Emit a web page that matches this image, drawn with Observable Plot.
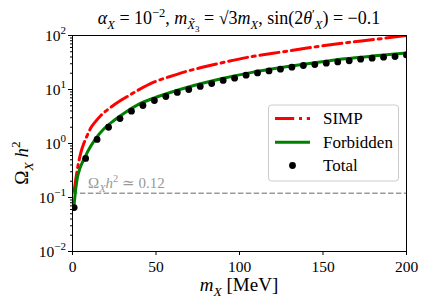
<!DOCTYPE html>
<html><head><meta charset="utf-8">
<script src="https://cdn.jsdelivr.net/npm/d3@7"></script>
<script src="https://cdn.jsdelivr.net/npm/@observablehq/plot@0.6"></script>
<style>body{margin:0;background:#fff} svg{display:block} svg text, svg tspan{font-family: "Liberation Serif", "Times New Roman", "DejaVu Serif", serif !important;}</style>
</head><body><div id="chart"></div>
<script>
// ---- data ----
const totalMass = [1, 7.86, 14.72, 21.59, 28.45, 35.31, 42.17, 49.03, 55.90, 62.76, 69.62, 76.48, 83.34, 90.21, 97.07,
  103.93, 110.79, 117.66, 124.52, 131.38, 138.24, 145.10, 151.97, 158.83, 165.69, 172.55, 179.41, 186.28, 193.14, 200];
const totalOmega = [0.065, 0.53, 1.19, 2.0, 2.9, 3.96, 5.05, 6.26, 7.42, 8.84, 10.0, 11.4, 12.9, 14.7, 16.2,
  18.4, 20.3, 22.1, 23.8, 25.9, 27.8, 29.0, 30.7, 32.4, 34.1, 36.4, 38.0, 39.6, 40.8, 43.7];
const simpMass = [1, 2, 3.5, 5, 7, 9, 11, 14, 17, 23, 29, 34, 39, 49, 59, 69, 79, 89, 106, 126, 146, 163, 183, 200];
const simpOmega = [0.13, 0.22, 0.42, 0.68, 1.05, 1.45, 1.95, 2.6, 3.3, 4.7, 6.3, 7.8, 9.6, 13.8, 17.6, 22, 26.3, 31, 40, 50, 62, 73, 86, 100];
const forbMass = [1, 2, 3, 4.5, 6, 8, 9, 14, 19, 25, 32, 39, 49, 59, 69, 79, 89, 106, 126, 146, 163, 183, 200];
const forbOmega = [0.075, 0.15, 0.24, 0.35, 0.45, 0.6, 0.7, 1.25, 1.9, 2.7, 3.85, 5.2, 7.0, 8.9, 11.0, 13.3, 15.8, 20.3, 25.8, 31.6, 37, 42.5, 47.5];
const relicValue = 0.12;
const xTicks = [0, 50, 100, 150, 200];
const yTickExps = [-2, -1, 0, 1, 2];
const legendLabels = ["SIMP", "Forbidden", "Total"];

const FONT = "Liberation Serif, Times New Roman, DejaVu Serif, serif";
const total = totalMass.map((m, i) => ({m, v: totalOmega[i]}));
const simp = simpMass.map((m, i) => ({m, v: simpOmega[i]}));
const forb = forbMass.map((m, i) => ({m, v: forbOmega[i]}));
const majorY = yTickExps.map(e => Math.pow(10, e));
const minorY = [];
for (const e of yTickExps.slice(0, -1)) for (let k = 2; k <= 9; k++) minorY.push(k * Math.pow(10, e));

const DASHDOT = "19.2,4.8,3,4.8";

const plot = Plot.plot({
  width: 426, height: 308,
  marginLeft: 72, marginRight: 20, marginTop: 35, marginBottom: 57,
  style: {fontFamily: FONT, fontSize: "15.5px", color: "black", background: "white", overflow: "visible"},
  x: {domain: [0, 200]},
  y: {type: "log", domain: [0.01, 100]},
  marks: [
    Plot.ruleY([relicValue], {stroke: "#999", strokeWidth: 1.5, strokeDasharray: "5.5,2.4"}),
    Plot.line(simp, {x: "m", y: "v", stroke: "red", strokeWidth: 3, strokeDasharray: DASHDOT, curve: "monotone-x", clip: true}),
    Plot.line(forb, {x: "m", y: "v", stroke: "green", strokeWidth: 3, curve: "monotone-x", clip: true}),
    Plot.dot(total, {x: "m", y: "v", r: 3.4, fill: "black", stroke: "none", clip: true}),
    Plot.frame({stroke: "black", strokeWidth: 1}),
    Plot.axisX(xTicks, {tickSize: 4, tickPadding: 5, label: null, tickFormat: d => String(d)}),
    Plot.axisY(majorY, {tickSize: 4, label: null, tickFormat: () => ""}),
    Plot.axisY(minorY, {tickSize: 2, label: null, tickFormat: () => ""})
  ]
});

document.getElementById("chart").appendChild(plot);
const svg = d3.select(plot);
const xs = plot.scale("x"), ys = plot.scale("y");

function mathText(g, x, y, parts, size, anchor, extra) {
  const t = g.append("text").attr("x", x).attr("y", y).attr("font-size", size)
    .attr("text-anchor", anchor).attr("font-family", FONT).attr("fill", (extra && extra.fill) || "black");
  if (extra && extra.transform) t.attr("transform", extra.transform);
  let cur = 0;
  for (const p of parts) {
    const lvl = p.s || 0;
    const ts = t.append("tspan").text(p.t);
    const dy = lvl - cur;
    if (dy) ts.attr("dy", dy);
    cur = lvl;
    if (p.i) ts.attr("font-style", "italic");
    if (p.fs) ts.attr("font-size", p.fs);
    if (p.dx) ts.attr("dx", p.dx);
  }
  return t;
}

const ann = svg.append("g");

// y tick labels 10^n
for (const e of yTickExps) {
  const yy = ys.apply(Math.pow(10, e));
  mathText(ann, 66, yy + 5.5, [{t: "10"}, {t: String(e).replace("-", "\u2212"), s: -7, fs: 11}], 15.5, "end");
}

// title
const xc = (xs.apply(0) + xs.apply(200)) / 2;
const sub = 4.5, sfs = 12.5;
mathText(ann, xc, 24, [
  {t: "α", i: 1}, {t: "X", i: 1, s: sub, fs: sfs}, {t: " = 10"}, {t: "\u22122", s: -7, fs: sfs},
  {t: ", "}, {t: "m", i: 1}, {t: "X̃", i: 1, s: sub, fs: sfs}, {t: "3", s: sub + 3, fs: 9},
  {t: " = √3"}, {t: "m", i: 1}, {t: "X", i: 1, s: sub, fs: sfs},
  {t: ", sin(2"}, {t: "θ", i: 1}, {t: "′", s: -6, fs: sfs}, {t: "X", i: 1, s: sub, fs: sfs},
  {t: ") = \u22120.1"}
], 18, "middle");

// axis labels
mathText(ann, xc, 291, [{t: "m", i: 1}, {t: "X", i: 1, s: 4.5, fs: 13.5}, {t: " [MeV]"}], 19, "middle");
mathText(ann, 0, 0, [{t: "Ω"}, {t: "X", i: 1, s: 4.5, fs: 13.5}, {t: " h", i: 1}, {t: "2", s: -8, fs: 13.5}], 19, "middle",
  {transform: "translate(28,163) rotate(-90)"});

// relic label
mathText(ann, 88, 188, [{t: "Ω"}, {t: "X", i: 1, s: 3.5, fs: 10.5}, {t: "h", i: 1}, {t: "2", s: -6, fs: 10.5}, {t: " ≃ 0.12"}], 15, "start", {fill: "#999"});

// legend
const lg = svg.append("g");
lg.append("rect").attr("x", 268.5).attr("y", 105).attr("width", 130).attr("height", 76).attr("rx", 3)
  .attr("fill", "white").attr("fill-opacity", 0.8).attr("stroke", "#cccccc").attr("stroke-width", 1);
const rowsY = [118.5, 142.3, 165.5];
lg.append("line").attr("x1", 275).attr("x2", 310).attr("y1", rowsY[0]).attr("y2", rowsY[0])
  .attr("stroke", "red").attr("stroke-width", 3).attr("stroke-dasharray", DASHDOT);
lg.append("line").attr("x1", 275).attr("x2", 310).attr("y1", rowsY[1]).attr("y2", rowsY[1])
  .attr("stroke", "green").attr("stroke-width", 3);
lg.append("circle").attr("cx", 292.5).attr("cy", rowsY[2]).attr("r", 3.4).attr("fill", "black");
legendLabels.forEach((l, i) => {
  lg.append("text").attr("x", 323).attr("y", rowsY[i] + 5.5).attr("font-size", 17)
    .attr("text-anchor", "start").attr("font-family", FONT).text(l);
});
</script>
</body></html>
